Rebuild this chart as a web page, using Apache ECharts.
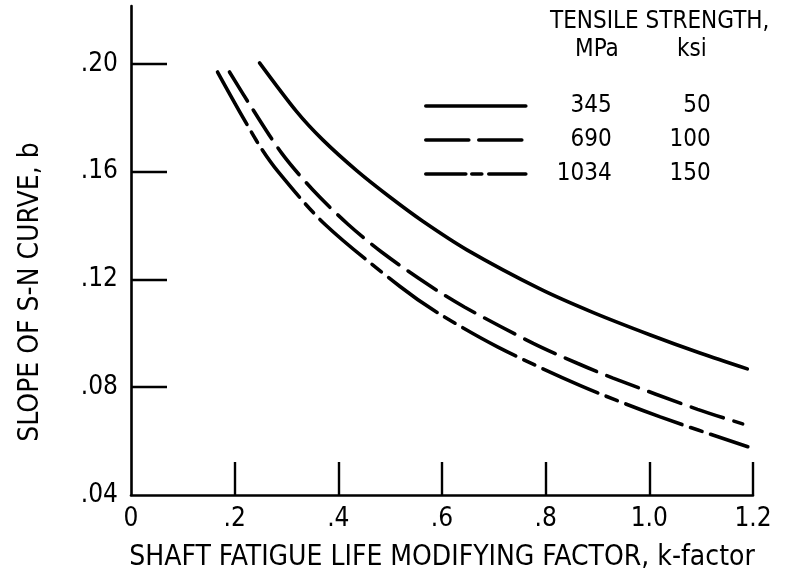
<!DOCTYPE html>
<html>
<head>
<meta charset="utf-8">
<script src="https://cdn.jsdelivr.net/npm/echarts@6/dist/echarts.min.js"></script>
<style>
  html, body { margin: 0; padding: 0; background: #fff; }
  #chart { width: 785px; height: 578px; }
</style>
</head>
<body>
<div id="chart"></div>
<script>
// k-factor / slope b
var kSolid = [0.248, 0.32, 0.37, 0.436, 0.5, 0.563, 0.648, 0.789, 0.892, 1.002, 1.099, 1.189];
var bSolid = [0.2004, 0.1822, 0.1718, 0.1603, 0.1505, 0.1416, 0.131, 0.1165, 0.1077, 0.0994, 0.0926, 0.0868];

var kDash = [0.19, 0.233, 0.291, 0.351, 0.418, 0.484, 0.573, 0.644, 0.776, 0.861, 0.93, 1.093, 1.18];
var bDash = [0.197, 0.1837, 0.1668, 0.1532, 0.1406, 0.1301, 0.1181, 0.1097, 0.0963, 0.0889, 0.0834, 0.0718, 0.0664];

var kDashDot = [0.167, 0.243, 0.283, 0.374, 0.519, 0.592, 0.708, 0.867, 1.021, 1.19];
var bDashDot = [0.197, 0.1712, 0.1602, 0.1405, 0.1174, 0.1076, 0.0949, 0.0806, 0.069, 0.0579];

var mpa = ["345", "690", "1034"];
var ksi = ["50", "100", "150"];

var xTicks = [0, 0.2, 0.4, 0.6, 0.8, 1.0, 1.2];
var yTicks = [0.04, 0.08, 0.12, 0.16, 0.20];

var FONT = "'Liberation Sans Narrow', 'DejaVu Sans Condensed', 'Roboto Condensed', 'Noto Sans', sans-serif";

function pairs(xs, ys) {
  return xs.map(function (x, i) { return [x, ys[i]]; });
}

function fmtX(v) {
  if (v === 0) return "0";
  if (v >= 1) return v.toFixed(1);
  return "." + v.toFixed(1).split(".")[1];
}
function fmtY(v) {
  return "." + v.toFixed(2).split(".")[1];
}

var myChart = echarts.init(document.getElementById("chart"));
var lw = 3.6;

myChart.setOption({
  animation: false,
  backgroundColor: "#fff",
  color: ["#000", "#000", "#000"],
  textStyle: { fontFamily: FONT, color: "#000" },
  grid: { left: 131, right: 32, top: 6, bottom: 83 },
  xAxis: {
    type: "value",
    min: 0, max: 1.2, interval: 0.2,
    name: "SHAFT FATIGUE LIFE MODIFYING FACTOR, k-factor",
    nameLocation: "middle",
    nameGap: 49,
    nameTextStyle: { fontSize: 28, fontFamily: FONT, color: "#000" },
    axisLine: { lineStyle: { color: "#000", width: 2.6 } },
    axisTick: { inside: true, length: 33, lineStyle: { color: "#000", width: 2.4 },
      customValues: xTicks.slice(1) },
    axisLabel: { fontSize: 26, color: "#000", margin: 11, formatter: fmtX, customValues: xTicks },
    splitLine: { show: false }
  },
  yAxis: {
    type: "value",
    min: 0.04, max: 0.2215, interval: 0.04,
    axisLine: { lineStyle: { color: "#000", width: 2.6 } },
    axisTick: { inside: true, length: 36, lineStyle: { color: "#000", width: 2.4 },
      customValues: yTicks.slice(1) },
    axisLabel: { fontSize: 26, color: "#000", margin: 13, formatter: fmtY, customValues: yTicks },
    splitLine: { show: false }
  },
  legend: {
    orient: "vertical",
    left: 419,
    top: 89,
    itemWidth: 100,
    itemHeight: 14,
    itemGap: 10,
    itemStyle: { opacity: 0 },
    lineStyle: { color: "#000", width: lw, cap: "round" },
    textStyle: {
      fontFamily: FONT, fontSize: 24, color: "#000",
      rich: {
        a: { width: 81, align: "right", fontSize: 24, fontFamily: FONT, color: "#000", lineHeight: 22 },
        b: { width: 99, align: "right", fontSize: 24, fontFamily: FONT, color: "#000", lineHeight: 22 }
      }
    },
    formatter: function (name) {
      var i = mpa.indexOf(name);
      return "{a|" + mpa[i] + "}{b|" + ksi[i] + "}";
    },
    data: [
      { name: mpa[0], lineStyle: { color: "#000", width: lw, type: "solid" } },
      { name: mpa[1], lineStyle: { color: "#000", width: lw, type: [43, 10] } },
      { name: mpa[2], lineStyle: { color: "#000", width: lw, type: [40, 6, 10, 7] } }
    ]
  },
  graphic: [
    { type: "text", left: 550, top: 10,
      style: { text: "TENSILE STRENGTH,", font: "24px " + FONT, fill: "#000" } },
    { type: "text", left: 575, top: 38,
      style: { text: "MPa", font: "24px " + FONT, fill: "#000" } },
    { type: "text", left: 677, top: 38,
      style: { text: "ksi", font: "24px " + FONT, fill: "#000" } },
    { type: "text", x: 31, y: 292, rotation: Math.PI / 2,
      style: { text: "SLOPE OF S-N CURVE, b", font: "28px " + FONT, fill: "#000",
        align: "center", verticalAlign: "middle" } }
  ],
  series: [
    {
      name: mpa[0], type: "line", smooth: 0.3, symbol: "none",
      lineStyle: { color: "#000", width: lw, type: "solid", cap: "round" },
      data: pairs(kSolid, bSolid)
    },
    {
      name: mpa[1], type: "line", smooth: 0.3, symbol: "none",
      lineStyle: { color: "#000", width: lw, type: [34, 11], cap: "round" },
      data: pairs(kDash, bDash)
    },
    {
      name: mpa[2], type: "line", smooth: 0.3, symbol: "none",
      lineStyle: { color: "#000", width: lw, type: [60, 9, 12, 9], cap: "round" },
      data: pairs(kDashDot, bDashDot)
    }
  ]
});
</script>
</body>
</html>
